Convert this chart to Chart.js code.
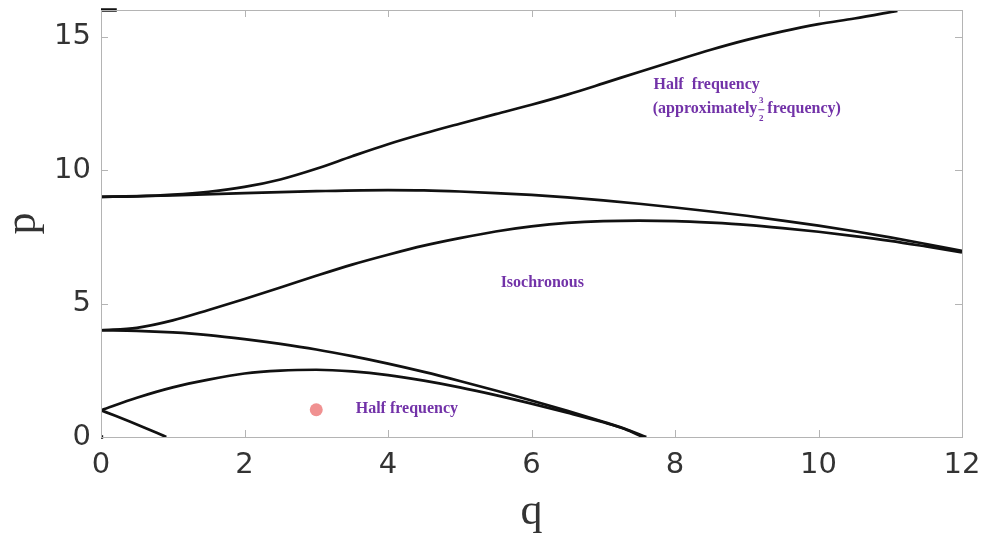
<!DOCTYPE html>
<html>
<head>
<meta charset="utf-8">
<script src="https://cdn.jsdelivr.net/npm/chart.js@4.4.1/dist/chart.umd.min.js"></script>
<style>
html,body{margin:0;padding:0;background:#fff;}
#wrap{width:985px;height:534px;position:relative;}
</style>
</head>
<body>
<div id="wrap"><canvas id="c" width="985" height="534"></canvas></div>
<script>
// ---- data ----
const xTicks = [0, 2, 4, 6, 8, 10, 12];
const yTicks = [0, 5, 10, 15];

const qB1 = [0, 0.2, 0.4, 0.6, 0.8, 0.91];
const pB1 = [1.00, 0.795, 0.581, 0.358, 0.128, 0.0];

const qA1 = [0, 0.5, 1, 1.5, 2, 2.5, 3, 3.5, 4, 4.5, 5, 5.5, 6, 6.5, 7, 7.3, 7.55];
const pA1 = [1.00, 1.47, 1.86, 2.15, 2.38, 2.49, 2.52, 2.46, 2.32, 2.11, 1.86, 1.57, 1.25, 0.91, 0.55, 0.30, 0.0];

const qB2 = [0, 0.5, 1, 1.5, 2, 2.5, 3, 3.5, 4, 4.5, 5, 5.5, 6, 6.5, 7, 7.3, 7.6];
const pB2 = [4.00, 3.98, 3.92, 3.82, 3.67, 3.49, 3.28, 3.03, 2.75, 2.44, 2.10, 1.74, 1.37, 0.98, 0.57, 0.31, 0.0];

const qA2 = [0, 0.5, 1, 1.5, 2, 2.5, 3, 3.5, 4, 4.5, 5, 5.5, 6, 6.5, 7, 7.5, 8, 8.5, 9, 9.5, 10, 10.5, 11, 11.5, 12];
const pA2 = [4.00, 4.09, 4.37, 4.76, 5.17, 5.60, 6.04, 6.46, 6.83, 7.17, 7.45, 7.70, 7.89, 8.02, 8.09, 8.11, 8.09, 8.03, 7.95, 7.83, 7.69, 7.53, 7.35, 7.14, 6.92];

const qB3 = [0, 1, 2, 3, 4, 4.5, 5, 5.5, 6, 6.5, 7, 7.5, 8, 8.5, 9, 9.5, 10, 10.5, 11, 11.5, 12];
const pB3 = [9.00, 9.05, 9.14, 9.21, 9.25, 9.24, 9.20, 9.14, 9.07, 8.98, 8.87, 8.74, 8.60, 8.45, 8.29, 8.11, 7.92, 7.71, 7.48, 7.23, 6.97];

const qA3 = [0, 0.5, 1, 1.5, 2, 2.5, 3, 3.5, 4, 4.5, 5, 5.5, 6, 6.5, 7, 7.5, 8, 8.5, 9, 9.5, 10, 10.5, 11.1];
const pA3 = [9.00, 9.02, 9.08, 9.19, 9.37, 9.65, 10.05, 10.52, 10.97, 11.37, 11.74, 12.10, 12.45, 12.83, 13.25, 13.68, 14.10, 14.51, 14.88, 15.20, 15.47, 15.68, 15.97];

const qB4 = [0, 0.22];
const pB4 = [16.0, 16.0];

const qA0 = [0, 0.03];
const pA0 = [0.0, 0.0];

const markerQ = [3.0];
const markerP = [1.02];

const notes = [
  {text: 'Half frequency', q: 3.55, p: 1.05},
  {text: 'Isochronous', q: 5.57, p: 5.77},
  {text: 'Half  frequency', q: 7.70, p: 13.20}
];
const note2 = {pre: '(approximately ', num: '3', den: '2', post: ' frequency)', q: 7.69, p: 12.30};

// ---- build ----
const pts = (qs, ps) => qs.map((q, i) => ({x: q, y: ps[i]}));
const curve = (qs, ps, extra) => Object.assign({
  data: pts(qs, ps), showLine: true, pointRadius: 0, borderColor: '#111',
  backgroundColor: '#111', borderWidth: 2.7, cubicInterpolationMode: 'monotone', fill: false
}, extra || {});

const PURPLE = '#7232a8';
const noPad = s => { s.paddingTop = 0; s.paddingBottom = 0; s.paddingLeft = 0; s.paddingRight = 0; };

const framePlugin = {
  id: 'frame',
  afterDraw(chart) {
    const {ctx, chartArea: a, scales: {x, y}} = chart;
    ctx.save();
    ctx.strokeStyle = '#b4b4b4';
    ctx.lineWidth = 1;
    ctx.strokeRect(Math.round(a.left) + 0.5, Math.round(a.top) + 0.5, Math.round(a.right - a.left), Math.round(a.bottom - a.top));
    const L = 7;
    ctx.beginPath();
    xTicks.forEach(v => {
      if (v === 0 || v === 12) return;
      const px = Math.round(x.getPixelForValue(v)) + 0.5;
      ctx.moveTo(px, a.bottom); ctx.lineTo(px, a.bottom - L);
      ctx.moveTo(px, a.top); ctx.lineTo(px, a.top + L);
    });
    yTicks.forEach(v => {
      if (v === 0) return;
      const py = Math.round(y.getPixelForValue(v)) + 0.5;
      ctx.moveTo(a.left, py); ctx.lineTo(a.left + L, py);
      ctx.moveTo(a.right, py); ctx.lineTo(a.right - L, py);
    });
    ctx.stroke();
    ctx.restore();
  },
  afterDatasetsDraw(chart) {
    const {ctx, scales: {x, y}} = chart;
    ctx.save();
    ctx.fillStyle = PURPLE;
    ctx.textBaseline = 'middle';
    ctx.textAlign = 'left';
    ctx.font = 'bold 16px "Liberation Serif"';
    notes.forEach(n => ctx.fillText(n.text, x.getPixelForValue(n.q), y.getPixelForValue(n.p)));
    let px = x.getPixelForValue(note2.q);
    const py = y.getPixelForValue(note2.p);
    ctx.fillText(note2.pre, px, py);
    px += ctx.measureText(note2.pre).width - 3;
    ctx.font = 'bold 9px "Liberation Serif"';
    ctx.textAlign = 'center';
    ctx.fillText(note2.num, px + 3, py - 8);
    ctx.fillText(note2.den, px + 3, py + 10);
    ctx.fillRect(px, py + 0.5, 6, 1);
    ctx.textAlign = 'left';
    ctx.font = 'bold 16px "Liberation Serif"';
    ctx.fillText(note2.post, px + 5, py);
    ctx.restore();
  }
};

new Chart(document.getElementById('c'), {
  type: 'scatter',
  data: {
    datasets: [
      curve(qB1, pB1),
      curve(qA1, pA1),
      curve(qB2, pB2),
      curve(qA2, pA2),
      curve(qB3, pB3),
      curve(qA3, pA3),
      curve(qB4, pB4, {borderWidth: 3.5, clip: false}),
      curve(qA0, pA0, {borderWidth: 3.5, clip: false}),
      {data: pts(markerQ, markerP), showLine: false, pointRadius: 6.5, pointHoverRadius: 6.5,
       backgroundColor: 'rgb(240,145,145)', borderWidth: 0}
    ]
  },
  options: {
    responsive: false,
    devicePixelRatio: 1,
    animation: false,
    events: [],
    layout: {padding: {left: 0, right: 23, top: 10, bottom: 0}},
    plugins: {legend: {display: false}, tooltip: {enabled: false}},
    scales: {
      x: {
        type: 'linear', min: 0, max: 12,
        afterBuildTicks: s => { s.ticks = xTicks.map(v => ({value: v})); },
        afterFit: s => { s.height = 97; noPad(s); },
        grid: {display: false, drawTicks: false},
        border: {display: false},
        ticks: {font: {family: 'DejaVu Sans', size: 29}, color: '#333', padding: 11, maxRotation: 0},
        title: {display: true, text: 'q', font: {family: 'Liberation Serif', size: 44, lineHeight: 0.8}, color: '#333', padding: {top: 0, bottom: 4}}
      },
      y: {
        type: 'linear', min: 0, max: 16,
        afterBuildTicks: s => { s.ticks = yTicks.map(v => ({value: v})); },
        afterFit: s => { s.width = 101; noPad(s); },
        grid: {display: false, drawTicks: false},
        border: {display: false},
        ticks: {font: {family: 'DejaVu Sans', size: 29}, color: '#333', padding: 10},
        title: {display: true, text: 'p', font: {family: 'Liberation Serif', size: 44, lineHeight: 0.8}, color: '#333', padding: {top: 6, bottom: 0}}
      }
    }
  },
  plugins: [framePlugin]
});
</script>
</body>
</html>
